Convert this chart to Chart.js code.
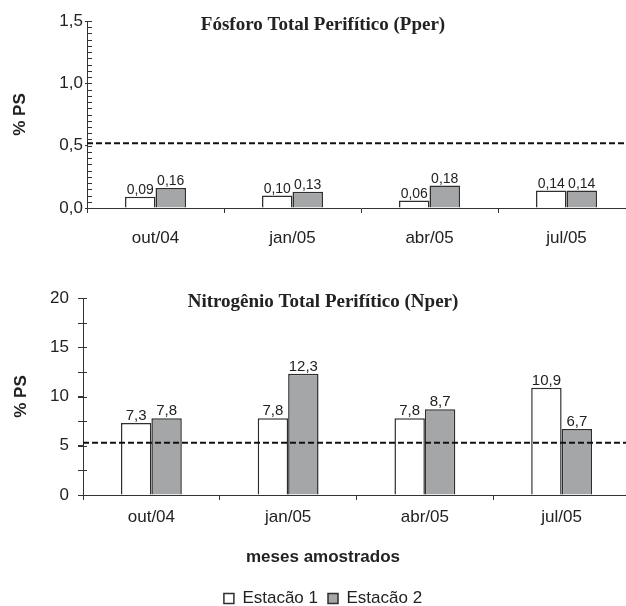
<!DOCTYPE html>
<html><head><meta charset="utf-8">
<script src="https://cdn.jsdelivr.net/npm/chart.js@4.4.1/dist/chart.umd.min.js"></script>
<style>
html,body{margin:0;padding:0;background:#fff;overflow:hidden;width:626px;height:606px;position:relative;}
#c1{position:absolute;left:0;top:0;}
#c2{position:absolute;left:0;top:270px;}
</style></head><body>
<canvas id="c1" width="640" height="262"></canvas>
<canvas id="c2" width="646" height="350"></canvas>
<script>
// ---- data ----
const categories = ['out/04', 'jan/05', 'abr/05', 'jul/05'];
const seriesNames = ['Estacão 1', 'Estacão 2'];
const fosforoE1 = [0.09, 0.10, 0.06, 0.14];
const fosforoE2 = [0.16, 0.13, 0.18, 0.14];
const nitrogenioE1 = [7.3, 7.8, 7.8, 10.9];
const nitrogenioE2 = [7.8, 12.3, 8.7, 6.7];
const fosforoLimit = 0.52;
const nitrogenioLimit = 5.3;
const fosforoTicks = ['0,0', '0,5', '1,0', '1,5'];
const nitrogenioTicks = ['0', '5', '10', '15', '20'];
const fosforoTitle = 'Fósforo Total Perifítico (Pper)';
const nitrogenioTitle = 'Nitrogênio Total Perifítico (Nper)';
const yTitle = '% PS';
const xTitle = 'meses amostrados';

// ---- styles ----
const WHITE = '#ffffff';
const GRAY = '#a4a6a8';
const EDGE = '#2e2e2e';
const AXIS = '#333333';
const TEXT = '#222222';
const SANS = "'Liberation Sans', Arial, sans-serif";
const SERIF = "'Liberation Serif', 'Times New Roman', serif";

const extras = {
  id: 'extras',
  afterDatasetsDraw(chart, args, opts) {
    const ctx = chart.ctx;
    const y = chart.scales.y;
    const area = chart.chartArea;
    ctx.save();
    // minor ticks on y axis
    ctx.strokeStyle = AXIS;
    ctx.lineWidth = 1;
    const n = Math.round(y.max / opts.minorStep);
    for (let k = 0; k <= n; k++) {
      const py = Math.round(y.getPixelForValue(k * opts.minorStep)) + 0.5;
      ctx.beginPath();
      ctx.moveTo(area.left - opts.minorLeft, py);
      ctx.lineTo(area.left + opts.minorRight, py);
      ctx.stroke();
    }
    // dashed reference line
    const ly = y.getPixelForValue(opts.limit);
    ctx.strokeStyle = '#111';
    ctx.lineWidth = 2;
    ctx.setLineDash([6, 3]);
    ctx.beginPath();
    ctx.moveTo(area.left, ly);
    ctx.lineTo(area.right, ly);
    ctx.stroke();
    ctx.setLineDash([]);
    // value labels
    ctx.fillStyle = TEXT;
    ctx.font = opts.labelFont + 'px ' + SANS;
    ctx.textAlign = 'center';
    ctx.textBaseline = 'alphabetic';
    chart.data.datasets.forEach((ds, di) => {
      const meta = chart.getDatasetMeta(di);
      meta.data.forEach((el, i) => {
        const txt = ds.data[i].toFixed(opts.decimals).replace('.', ',');
        ctx.fillText(txt, el.x, el.y - 3);
      });
    });
    // fixed texts
    (opts.texts || []).forEach(t => {
      ctx.font = t.font;
      ctx.fillStyle = TEXT;
      ctx.textAlign = 'center';
      ctx.textBaseline = 'alphabetic';
      ctx.fillText(t.text, t.x, t.y);
    });
    ctx.restore();
  }
};

function makeChart(id, cfg) {
  return new Chart(document.getElementById(id), {
    type: 'bar',
    data: {
      labels: categories,
      datasets: [
        { label: seriesNames[0], data: cfg.d1, backgroundColor: WHITE, borderColor: EDGE, borderWidth: 1.5,
          categoryPercentage: 0.445, barPercentage: 1 },
        { label: seriesNames[1], data: cfg.d2, backgroundColor: GRAY, borderColor: EDGE, borderWidth: 1.5,
          categoryPercentage: 0.445, barPercentage: 1 }
      ]
    },
    options: {
      responsive: false,
      animation: false,
      devicePixelRatio: 1,
      layout: { padding: cfg.padding },
      plugins: {
        legend: cfg.legend,
        tooltip: { enabled: false },
        extras: cfg.extras
      },
      scales: {
        x: {
          grid: { offset: true, drawOnChartArea: false, tickLength: 5, color: AXIS, lineWidth: 1 },
          border: { color: AXIS, width: 1 },
          ticks: { font: { family: SANS, size: 17 }, color: TEXT, padding: cfg.xPad },
          afterFit(s) { s.height = cfg.xHeight; s.paddingLeft = 0; s.paddingRight = 0; }
        },
        y: {
          min: 0, max: cfg.max,
          grid: { drawOnChartArea: false, tickLength: cfg.yTick, color: AXIS, lineWidth: 1 },
          border: { color: AXIS, width: 1 },
          ticks: { stepSize: cfg.step, font: { family: SANS, size: 17 }, color: TEXT, padding: cfg.yPad,
                   callback: (v, i) => cfg.tickLabels[i] },
          title: { display: true, text: yTitle, font: { family: SANS, size: 17, weight: 'bold' }, color: TEXT,
                   padding: { top: cfg.yTitlePad, bottom: 0 } },
          afterFit(s) { s.width = cfg.yWidth; s.paddingTop = 0; s.paddingBottom = 0; }
        }
      }
    },
    plugins: [extras]
  });
}

makeChart('c1', {
  d1: fosforoE1, d2: fosforoE2, max: 1.5, step: 0.5, tickLabels: fosforoTicks,
  padding: { top: 21, left: 0, right: 5, bottom: 0 },
  yWidth: 87, xHeight: 54, xPad: 15, yPad: 2, yTick: 2, yTitlePad: 10,
  legend: { display: false },
  extras: { limit: fosforoLimit, minorStep: 0.05, minorLeft: 0, minorRight: 5, labelFont: 14, decimals: 2,
            texts: [{ text: fosforoTitle, x: 323, y: 30, font: 'bold 19px ' + SERIF }] }
});

makeChart('c2', {
  d1: nitrogenioE1, d2: nitrogenioE2, max: 20, step: 5, tickLabels: nitrogenioTicks,
  padding: { top: 28, left: 16, right: 16, bottom: 3 },
  yWidth: 67, xHeight: 85, xPad: 7, yPad: 9, yTick: 5, yTitlePad: -5,
  legend: { display: true, position: 'bottom',
            labels: { boxWidth: 10, boxHeight: 10, padding: 10, color: TEXT, font: { family: SANS, size: 17 } } },
  extras: { limit: nitrogenioLimit, minorStep: 2.5, minorLeft: 5, minorRight: 4, labelFont: 15, decimals: 1,
            texts: [{ text: nitrogenioTitle, x: 323, y: 37, font: 'bold 19px ' + SERIF },
                    { text: xTitle, x: 323, y: 292, font: 'bold 17px ' + SANS }] }
});
</script>
</body></html>
